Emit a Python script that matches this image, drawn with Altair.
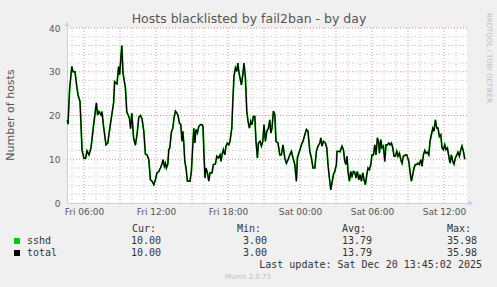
import altair as alt
import pandas as pd

# ---------------- data ----------------
# minutes since Fri 2025-12-19 00:00
minutes = [
    277, 280, 288, 299, 305, 315, 324, 330, 340, 345, 350, 360, 368, 375, 385, 395, 408, 422, 428, 435,
    445, 450, 458, 470, 479, 490, 508, 513, 519, 525, 533, 538, 549, 555, 567, 574, 580, 587, 593, 599,
    608, 617,
    625, 634, 642, 650, 659, 667, 675, 684, 692, 700, 709, 717, 725, 734, 742, 750, 755, 762, 767, 772,
    779, 784, 789, 797, 804, 810, 817, 824, 830, 837, 844, 850, 854, 859, 864, 870, 877, 884, 890, 897,
    904, 909, 914, 920, 927, 934, 942, 950,
    955, 960, 965, 970, 977, 984, 990, 1000, 1007, 1017, 1024, 1032, 1040, 1045, 1050, 1057, 1064, 1070, 1077, 1084,
    1090, 1099, 1104, 1110, 1117, 1124, 1129, 1134, 1140, 1147, 1154, 1160, 1167, 1174, 1180, 1187, 1194, 1200, 1207, 1214,
    1220, 1227, 1232, 1240, 1247, 1254, 1260, 1267, 1274, 1282, 1289, 1294, 1300, 1307, 1314, 1320, 1330, 1339, 1347, 1355,
    1364, 1372, 1380, 1389, 1397, 1405, 1414, 1422, 1427, 1434, 1440, 1447, 1455, 1464, 1472, 1480, 1489, 1497, 1505, 1514,
    1522, 1530, 1539, 1544, 1550, 1557, 1567, 1574, 1580, 1587, 1594, 1600, 1607, 1614, 1622, 1625, 1634, 1640, 1650, 1657,
    1664, 1670, 1675, 1680, 1687, 1694, 1700, 1707, 1714, 1720, 1727, 1734, 1740, 1747, 1754, 1760, 1767, 1774, 1780, 1787,
    1794, 1800, 1807, 1814, 1820, 1827, 1834, 1837, 1844, 1850, 1857, 1864, 1870, 1877, 1884, 1890, 1897, 1904, 1910, 1917,
    1924, 1930, 1937, 1944, 1950, 1957, 1967, 1974, 1984, 1990, 1997, 2004, 2010, 2017, 2024, 2030, 2037, 2044, 2050, 2057,
    2064, 2070, 2077, 2084, 2090, 2097, 2104, 2110, 2117, 2124, 2130, 2137, 2144, 2150, 2157, 2164, 2170, 2177, 2184, 2190,
    2197, 2204, 2210, 2217, 2224, 2230, 2237, 2244, 2250, 2257, 2264,
]
hosts = [
    19.0, 18.0, 26.0, 31.2, 30.0, 30.0, 26.6, 24.7, 23.2, 18.0, 12.1, 10.2, 10.2, 11.9, 11.0, 12.6, 17.8, 22.9, 20.1, 20.9,
    20.1, 20.9, 17.4, 13.3, 13.7, 17.4, 22.9, 27.7, 27.4, 27.2, 31.2, 29.3, 35.98, 29.7, 26.3, 20.8, 20.2, 19.4, 17.0, 20.5,
    14.9, 13.2,
    15.6, 19.6, 20.0, 19.3, 16.4, 11.2, 11.0, 9.9, 5.3, 5.0, 4.2, 5.3, 6.9, 7.2, 8.0, 8.9, 9.9, 8.4, 9.1, 8.0,
    8.9, 12.2, 12.6, 16.2, 17.1, 19.4, 21.0, 20.6, 20.0, 18.3, 17.9, 14.1, 16.4, 13.7, 9.5, 8.0, 5.0, 5.0, 5.0, 7.2,
    13.3, 17.1, 13.7, 16.8, 16.0, 17.5, 17.9, 17.9,
    17.5, 11.0, 5.7, 8.0, 6.9, 5.0, 6.9, 6.9, 8.8, 8.9, 10.7, 10.3, 11.0, 9.5, 11.0, 12.2, 11.0, 13.0, 13.7, 13.3,
    14.1, 17.1, 23.2, 29.0, 30.9, 30.1, 32.0, 30.1, 28.6, 27.0, 29.3, 32.0, 28.6, 21.0, 18.7, 17.1, 18.7, 17.9, 19.8, 19.8,
    14.1, 10.3, 13.7, 14.1, 13.0, 14.1, 17.9, 14.1, 16.4, 17.1, 19.0, 16.0, 17.1, 21.0, 20.2, 14.1, 13.7, 11.0, 11.0, 13.3,
    10.3, 9.1, 9.9, 11.0, 11.8, 10.3, 8.8, 5.0, 10.3, 11.4, 12.2, 13.3, 14.1, 15.6, 16.8, 16.4, 11.8, 10.3, 8.0, 8.0,
    11.8, 13.0, 13.7, 14.9, 13.0, 14.1, 13.7, 12.6, 8.8, 5.7, 3.0, 4.6, 6.5, 7.2, 8.8, 11.8, 11.8, 11.7, 13.0, 12.2,
    9.5, 8.8, 10.7, 7.2, 5.0, 7.2, 6.1, 7.2, 7.0, 5.7, 7.2, 5.3, 6.5, 5.0, 6.9, 5.3, 4.2, 6.5, 8.0, 7.6,
    8.8, 11.0, 11.0, 13.3, 11.0, 14.9, 13.7, 11.4, 14.5, 12.6, 13.0, 9.5, 13.3, 13.3, 13.7, 13.3, 13.7, 12.6, 10.7, 10.7,
    11.8, 10.7, 11.4, 9.9, 9.1, 10.7, 11.0, 11.0, 9.5, 7.2, 5.0, 6.5, 8.0, 8.8, 8.8, 9.1, 8.8, 9.9, 8.4, 11.0,
    12.0, 11.4, 11.6, 11.0, 14.1, 15.6, 17.1, 16.4, 19.0, 17.1, 17.1, 15.2, 15.6, 12.6, 12.2, 13.3, 12.2, 12.6, 10.7, 9.1,
    11.0, 9.5, 8.9, 10.3, 11.0, 11.6, 10.7, 12.2, 13.0, 11.8, 10.0,
]
assert len(minutes) == len(hosts)

series_names = ["sshd", "total"]
series_colors = ["#00CC00", "#000000"]
stat_headers = ["Cur:", "Min:", "Avg:", "Max:"]
stat_values = {
    "sshd": [10.00, 3.00, 13.79, 35.98],
    "total": [10.00, 3.00, 13.79, 35.98],
}
title_text = "Hosts blacklisted by fail2ban - by day"
y_title = "Number of hosts"
last_update = "Last update: Sat Dec 20 13:45:02 2025"
footer = "Munin 2.0.73"
side_text = "RRDTOOL / TOBI OETIKER"

label_hours = [6, 12, 18, 24, 30, 36]
major_hours = [6, 9, 12, 15, 18, 21, 24, 27, 30, 33, 36]
minor_hours = [5, 7, 8, 10, 11, 13, 14, 16, 17, 19, 20, 22, 23, 25, 26, 28, 29, 31, 32, 34, 35, 37]
y_labels = [0, 10, 20, 30, 40]
major_y = [10, 20, 30, 40]
minor_y = [2, 4, 6, 8, 12, 14, 16, 18, 22, 24, 26, 28, 32, 34, 36, 38]

# ---------------- tables ----------------
base_day = pd.Timestamp("2025-12-19 00:00")
df = pd.DataFrame({"t": base_day + pd.to_timedelta(minutes, unit="min"), "v": hosts})
df_major_x = pd.DataFrame({"t": base_day + pd.to_timedelta(major_hours, unit="h")})
df_minor_x = pd.DataFrame({"t": base_day + pd.to_timedelta(minor_hours, unit="h")})
df_major_y = pd.DataFrame({"v": major_y})
df_minor_y = pd.DataFrame({"v": minor_y})


def dt(h):
    d = 19 + h // 24
    return alt.DateTime(year=2025, month=12, date=d, hours=h % 24, minutes=0)


xscale = alt.Scale(domain=[alt.DateTime(year=2025, month=12, date=19, hours=4, minutes=35),
                           alt.DateTime(year=2025, month=12, date=20, hours=13, minutes=55)])
yscale = alt.Scale(domain=[0, 40], nice=False, zero=True)

AXIS_COL = "#c8d0f0"
TXT = "#555555"

x_axis = alt.Axis(values=[dt(h) for h in label_hours], format="%a %H:%M", labelFont="DejaVu Sans",
                  labelFontSize=9, labelColor=TXT, ticks=False, grid=False, domainColor=AXIS_COL,
                  labelPadding=4, title=None, labelFlush=False, labelOverlap=False)
y_axis = alt.Axis(values=y_labels, labelFont="DejaVu Sans", labelFontSize=9, labelColor=TXT,
                  ticks=False, grid=False, domainColor=AXIS_COL, labelPadding=7, title=None)

X = alt.X("t:T", scale=xscale, axis=x_axis)
Y = alt.Y("v:Q", scale=yscale, axis=y_axis)

minor_vx = alt.Chart(df_minor_x).mark_rule(color="#c8c8c8", strokeDash=[1, 2]).encode(x=X)
major_vx = alt.Chart(df_major_x).mark_rule(color="#f09090", strokeDash=[1, 2]).encode(x=X)
minor_hy = alt.Chart(df_minor_y).mark_rule(color="#c8c8c8", strokeDash=[1, 2]).encode(y=Y)
major_hy = alt.Chart(df_major_y).mark_rule(color="#f09090", strokeDash=[1, 2]).encode(y=Y)

line_sshd = alt.Chart(df).mark_line(color=series_colors[0], strokeWidth=1.8).encode(x=X, y=Y)
line_total = alt.Chart(df).mark_line(color=series_colors[1], strokeWidth=1.2).encode(x=X, y=Y)

one = pd.DataFrame({"k": [0]})
OX, OY = 67, 28  # plot origin on the canvas


def txt(s, x, y, align="left", font="DejaVu Sans", size=10, color=TXT, angle=0, baseline="middle"):
    props = dict(text=s, align=align, font=font, fontSize=size, color=color, baseline=baseline)
    if angle:
        props["angle"] = angle
    return alt.Chart(one).mark_text(**props).encode(x=alt.value(x - OX), y=alt.value(y - OY))


texts = [
    txt(title_text, 249, 19, align="center", size=12.5),
    txt(y_title, 10.5, 115, align="center", size=11, angle=270),
    txt(side_text, 489, 58, align="center", size=7, color="#bdbdbd", angle=90),
    txt(footer, 248, 277, align="center", size=7, color="#bdbdbd"),
]
MONO = "DejaVu Sans Mono"
LEG = "#333333"
col_left = [132, 237, 342, 447]
col_right = [161, 267, 372, 477]
for h, xl in zip(stat_headers, col_left):
    texts.append(txt(h, xl, 229, font=MONO, size=10, color=LEG))
rows_y = [241, 253]
squares = []
for name, col, ry in zip(series_names, series_colors, rows_y):
    texts.append(txt(name, 27, ry, font=MONO, size=10, color=LEG))
    for val, xr in zip(stat_values[name], col_right):
        texts.append(txt(f"{val:.2f}", xr, ry, align="right", font=MONO, size=10, color=LEG))
    squares.append(alt.Chart(one).mark_rect(color=col).encode(
        x=alt.value(14 - OX), x2=alt.value(20 - OX), y=alt.value(ry - 3 - OY), y2=alt.value(ry + 3 - OY)))
texts.append(txt(last_update, 482, 265, align="right", font=MONO, size=10, color=LEG))

arrows = [
    alt.Chart(one).mark_point(shape="triangle-up", filled=True, color=AXIS_COL, size=30, opacity=1).encode(
        x=alt.value(0), y=alt.value(-4)),
    alt.Chart(one).mark_point(shape="triangle-right", filled=True, color=AXIS_COL, size=30, opacity=1).encode(
        x=alt.value(404), y=alt.value(175)),
    alt.Chart(one).mark_rule(color=AXIS_COL).encode(x=alt.value(400), x2=alt.value(404), y=alt.value(175)),
]

chart = alt.layer(
    minor_vx, minor_hy, major_vx, major_hy, line_sshd, line_total, *arrows, *squares, *texts
).properties(
    width=400, height=175,
    background="#F0F0F0",
    padding={"left": 67, "top": 28, "right": 30, "bottom": 84},
    autosize=alt.AutoSizeParams(type="none"),
).configure_view(stroke=None, fill="white")

chart.save("out.html", embed_options={"renderer": "svg", "actions": False})
